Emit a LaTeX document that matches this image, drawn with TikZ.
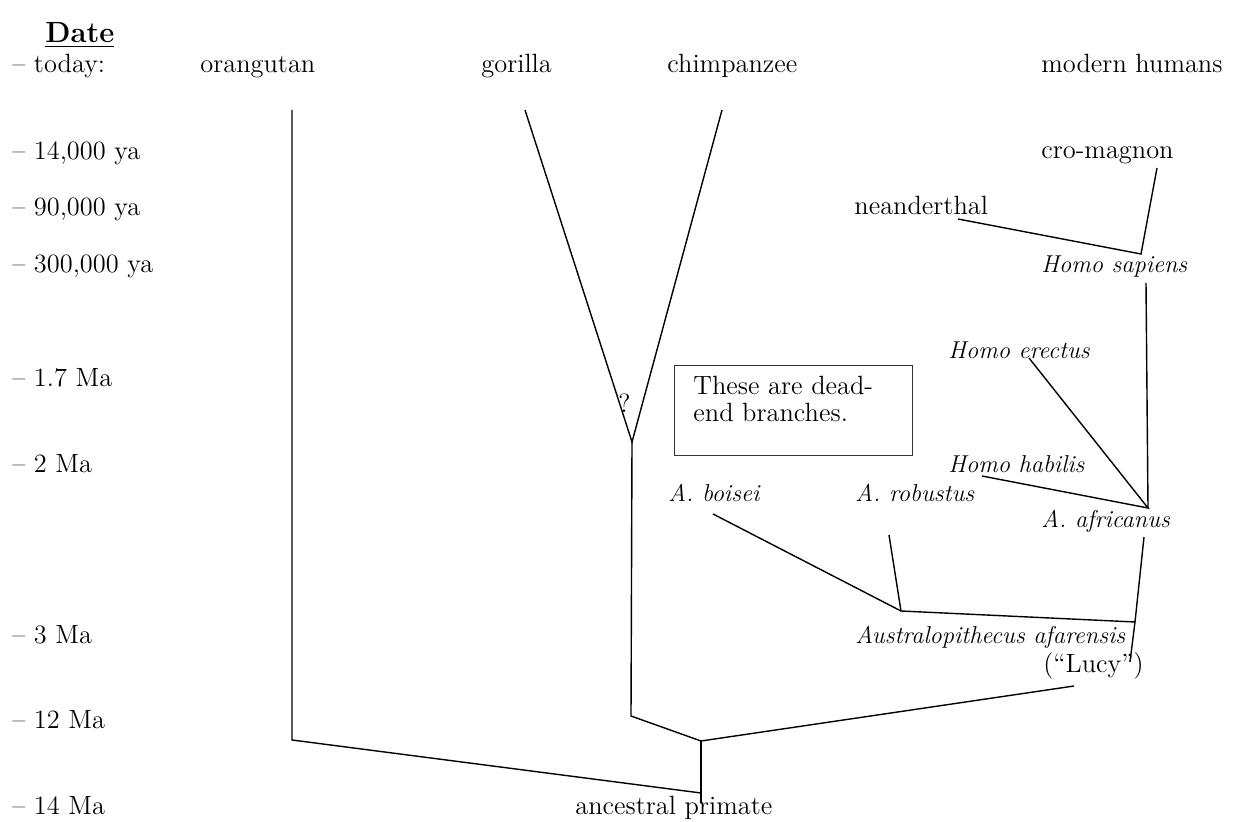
\documentclass[tikz,border=0pt]{standalone}
\begin{document}
\begin{tikzpicture}[x=0.5pt,y=-0.5pt,
  lab/.style={anchor=base west, inner sep=0pt, font=\fontsize{13.2}{16}\selectfont},
  ilab/.style={anchor=base west, inner sep=0pt, font=\fontsize{12.2}{14}\selectfont\itshape},
  branch/.style={line width=0.7pt, black},
  notebox/.style={draw=black!80, line width=0.7pt, anchor=north west, inner sep=0pt, minimum width=119pt, minimum height=45pt}]
\useasboundingbox (0,0) rectangle (1237,822);
% date column
\node[lab, font=\fontsize{14.6}{16}\selectfont\bfseries] (date) at (45,43) {\underline{Date}};
\node[lab] (d0) at (12,73) {-- today:};
\node[lab] (d1) at (12,160) {-- 14,000 ya};
\node[lab] (d2) at (12,216) {-- 90,000 ya};
\node[lab] (d3) at (12,273) {-- 300,000 ya};
\node[lab] (d4) at (12,387) {-- 1.7 Ma};
\node[lab] (d5) at (12,473) {-- 2 Ma};
\node[lab] (d6) at (12,644) {-- 3 Ma};
\node[lab] (d7) at (12,729) {-- 12 Ma};
\node[lab] (d8) at (12,815) {-- 14 Ma};
% taxa
\node[lab] (orang) at (200,73) {orangutan};
\node[lab] (gor) at (481,73) {gorilla};
\node[lab] (chimp) at (667,73) {chimpanzee};
\node[lab] (modern) at (1041,73) {modern humans};
\node[lab] (cro) at (1041,159) {cro-magnon};
\node[lab] (nean) at (854,215) {neanderthal};
\node[ilab] (sap) at (1041,273) {Homo sapiens};
\node[ilab] (erect) at (948,359) {Homo erectus};
\node[ilab] (habil) at (948,473) {Homo habilis};
\node[ilab] (bois) at (668,502) {A. boisei};
\node[ilab] (robu) at (855,502) {A. robustus};
\node[ilab] (afri) at (1041,528) {A. africanus};
\node[ilab] (afar) at (855,644) {Australopithecus afarensis};
\node[lab] (lucy) at (1043,673) {(``Lucy'')};
\node[lab] (anc) at (575,815) {ancestral primate};
\node[lab] (q) at (618,413) {?};
% note box
\node[notebox] (box) at (674,365) {};
\node[lab, align=left, font=\fontsize{13.2}{13.5}\selectfont] (boxtext) at (693,422) {These are dead-\\end branches.};
% connector points
\coordinate (oT) at (292,110);
\coordinate (oB) at (292,740);
\coordinate (root) at (701,793);
\coordinate (rootB) at (701,803);
\coordinate (hom) at (701,741);
\coordinate (gT) at (525,110);
\coordinate (cT) at (722,110);
\coordinate (gcJ) at (632,442);
\coordinate (gcB) at (631,716);
\coordinate (lucyE) at (1074,686);
\coordinate (afJ) at (1135,622);
\coordinate (afB) at (1130,662);
\coordinate (afT) at (1144,537);
\coordinate (ausJ) at (901,611);
\coordinate (robT) at (889,535);
\coordinate (boiT) at (713,514);
\coordinate (afrJ) at (1148,508);
\coordinate (habE) at (982,476);
\coordinate (ereE) at (1029,358);
\coordinate (sapB) at (1146,283);
\coordinate (sapJ) at (1141,254);
\coordinate (neaE) at (958,219);
\coordinate (croE) at (1157,168);
% branches
\draw[branch] (oT) -- (oB) -- (root);
\draw[branch] (hom) -- (rootB);
\draw[branch] (gT) -- (gcJ) -- (cT);
\draw[branch] (gcJ) -- (gcB) -- (hom) -- (lucyE);
\draw[branch] (afT) -- (afJ) -- (afB);
\draw[branch] (afJ) -- (ausJ) -- (robT);
\draw[branch] (ausJ) -- (boiT);
\draw[branch] (habE) -- (afrJ) -- (ereE);
\draw[branch] (afrJ) -- (sapB);
\draw[branch] (neaE) -- (sapJ) -- (croE);
\end{tikzpicture}
\end{document}
